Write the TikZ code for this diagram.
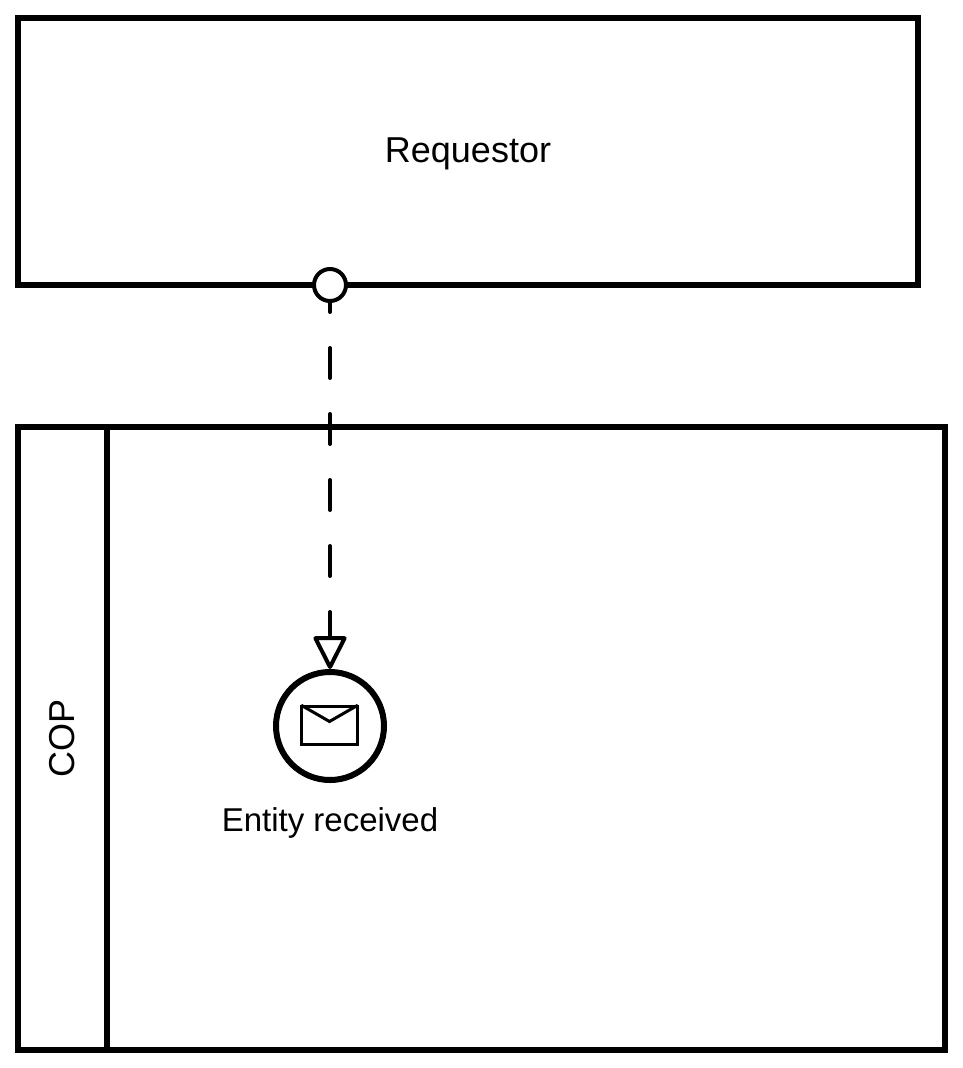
\documentclass[tikz,border=0pt]{standalone}
\usepackage{fontspec}
\setmainfont{Liberation Sans}
\usetikzlibrary{arrows.meta}
\begin{document}
\begin{tikzpicture}[x=0.75pt, y=-0.75pt]
  \tikzstyle{pool}=[rectangle,draw, line width=4.5pt, outer sep=0pt, inner sep=0pt, anchor=north west]
  \tikzstyle{label}=[inner sep=0pt, font=\fontsize{27}{30}\selectfont]
  \tikzstyle{port}=[circle,draw, line width=3pt, fill=white, minimum size=24pt, inner sep=0pt]
  \tikzstyle{event}=[circle,draw, line width=4.5pt, fill=white, minimum size=81pt, inner sep=0pt]
  \tikzstyle{envelope}=[rectangle,draw, line width=2.25pt, minimum width=42pt, minimum height=28.5pt, inner sep=0pt]
  \tikzstyle{message}=[line width=3pt, line cap=round, dash pattern=on 22.5pt off 27pt, dash phase=15.75pt, -{Triangle[open, length=26.5pt, width=26pt, line width=3pt, round]}]

  \useasboundingbox (0, 0) rectangle (963, 1068);

  \node[pool, minimum width=675pt, minimum height=200.25pt] (requestor) at (18, 18) {};
  \node[pool, minimum width=695.25pt, minimum height=467.25pt] (cop) at (18, 427) {};
  \coordinate (lanetop) at (107, 427);
  \coordinate (lanebottom) at (107, 1050);
  \path[draw, line width=4.5pt] (lanetop) -- (lanebottom);

  \node[label] (requestorlabel) at (468, 154) {Requestor};
  \node[label, rotate=90] (coplabel) at (62, 738) {COP};

  \node[port] (sendport) at (330, 285) {};
  \node[event] (received) at (330, 726) {};
  \node[envelope] (mail) at (329.5, 725) {};
  \node[label, font=\fontsize{24.75}{28}\selectfont] (receivedlabel) at (330, 823) {Entity received};

  \coordinate (flap) at (329.5, 721.5);
  \path[draw, line width=2.25pt, shorten <=1pt, shorten >=1pt] (mail.north west) -- (flap) -- (mail.north east);
  \path[draw, message] (sendport.south) -- (received.north);
\end{tikzpicture}
\end{document}
